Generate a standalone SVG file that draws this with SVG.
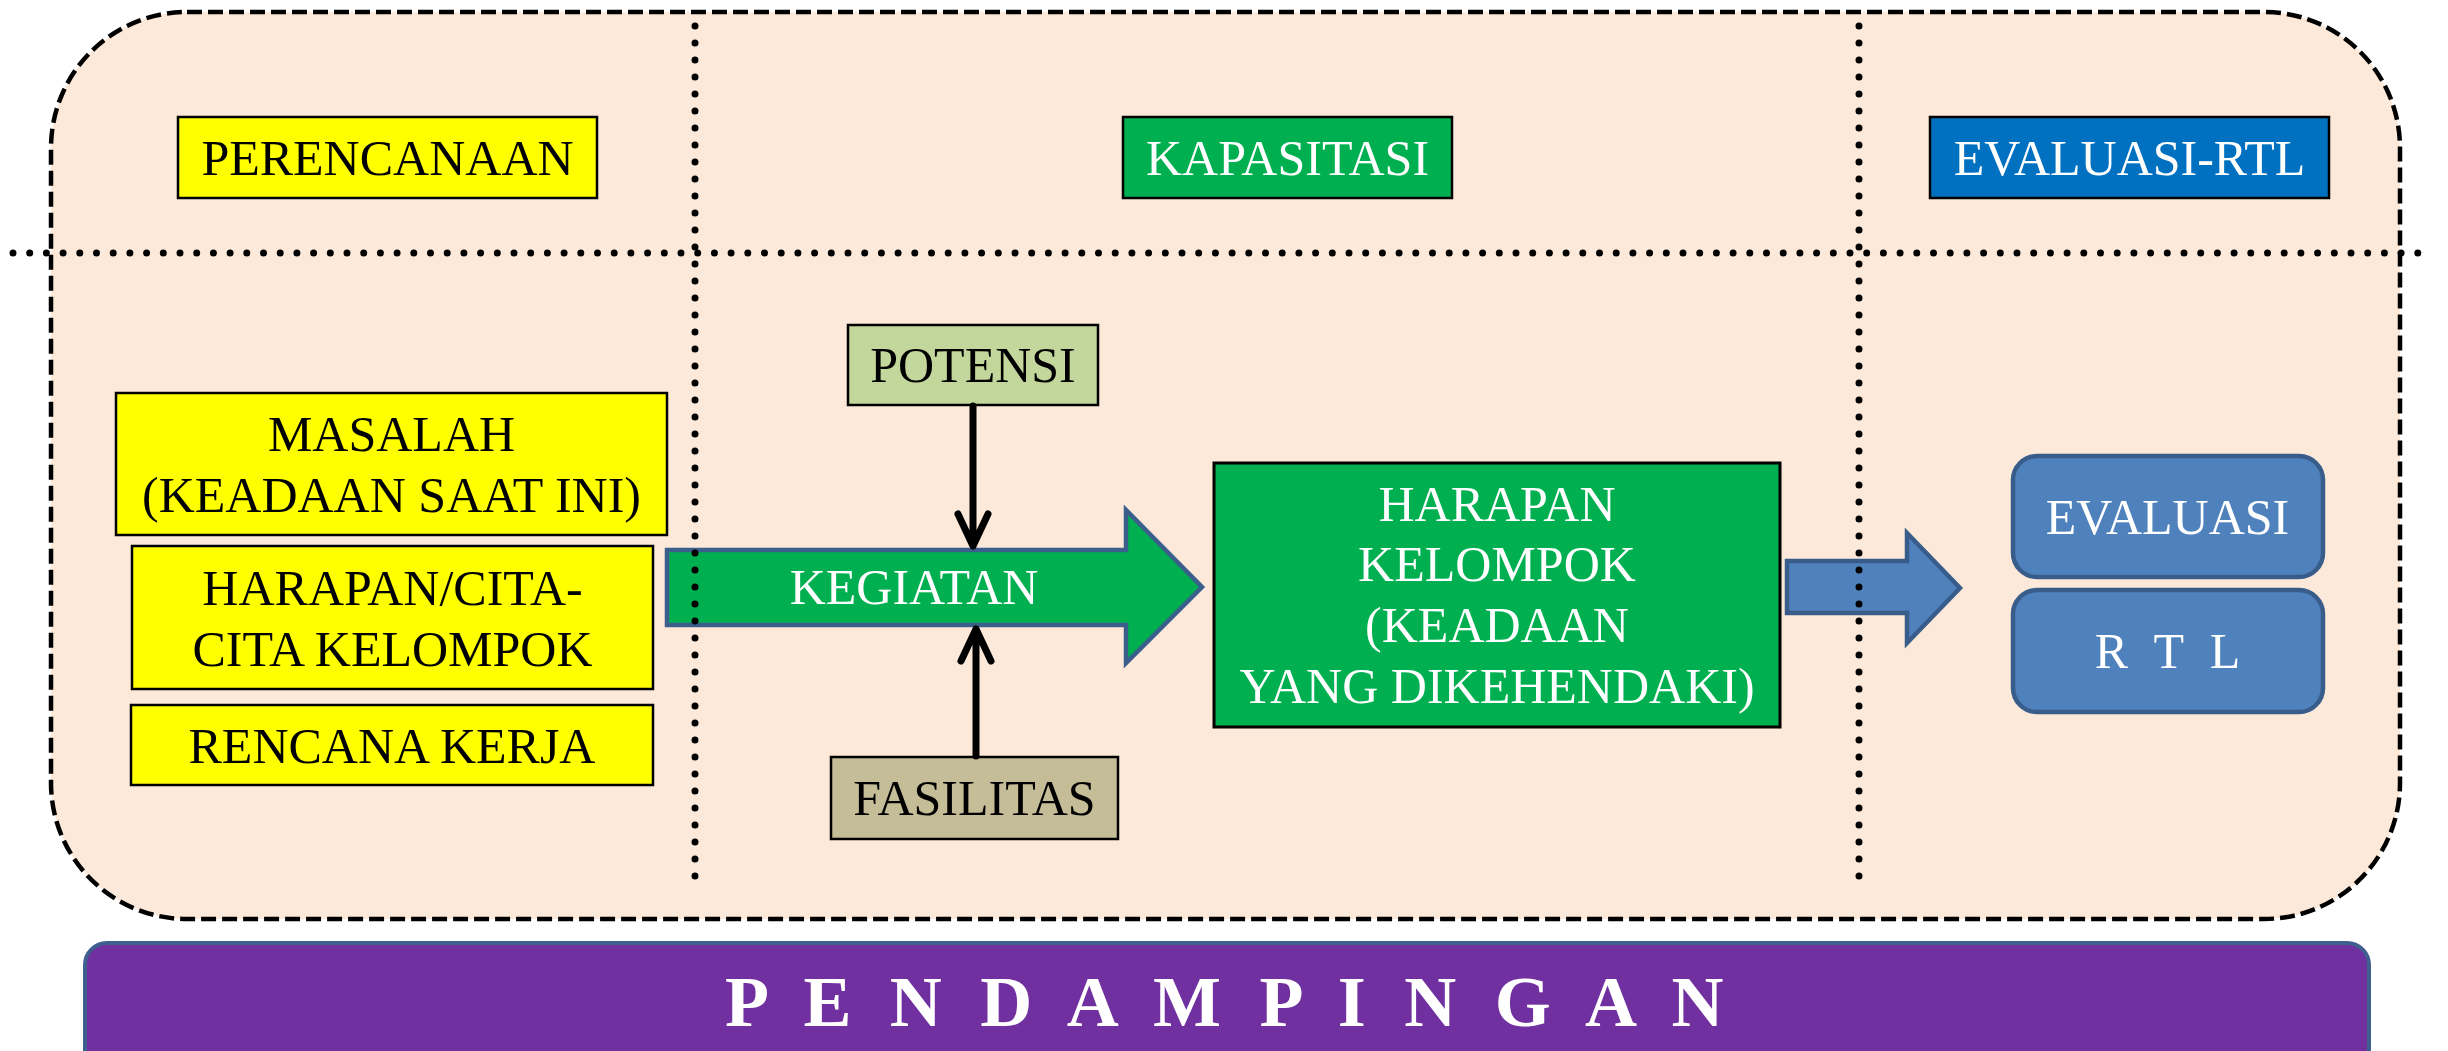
<svg xmlns="http://www.w3.org/2000/svg" width="2448" height="1051" viewBox="0 0 2448 1051">
<style>
.t{font-family:"Liberation Serif","Times New Roman",serif;font-size:50px;text-anchor:middle}
.k{fill:#000}
.w{fill:#fff}
.box{stroke:#000;stroke-width:2.5}
.dot{stroke:#000;stroke-width:7;stroke-linecap:round;fill:none}
.bl{stroke:#000;stroke-width:7;fill:none;stroke-linecap:round;stroke-linejoin:round}
</style>
<rect width="2448" height="1051" fill="#fff"/>
<g id="frame">
<rect x="51" y="12" width="2349" height="907" rx="136" ry="136" fill="#FDE9D9" stroke="#000" stroke-width="4.5" stroke-dasharray="15 6"/>
</g>
<g id="perencanaan"><rect class="box" x="178" y="117" width="419" height="81" fill="#FFFF00"/><text class="t k" x="387.5" y="175">PERENCANAAN</text></g>
<g id="kapasitasi"><rect class="box" x="1123" y="117" width="329" height="81" fill="#00B050"/><text class="t w" x="1287.5" y="175">KAPASITASI</text></g>
<g id="evaluasi-rtl"><rect class="box" x="1930" y="117" width="399" height="81" fill="#0070C0"/><text class="t w" x="2129.5" y="175">EVALUASI-RTL</text></g>
<g id="masalah"><rect class="box" x="116" y="393" width="551" height="142" fill="#FFFF00"/><text class="t k" x="391.5" y="451">MASALAH</text><text class="t k" x="391.5" y="512">(KEADAAN SAAT INI)</text></g>
<g id="harapan-cita"><rect class="box" x="132" y="546" width="521" height="143" fill="#FFFF00"/><text class="t k" x="392.5" y="605">HARAPAN/CITA-</text><text class="t k" x="392.5" y="666">CITA KELOMPOK</text></g>
<g id="rencana-kerja"><rect class="box" x="131" y="705" width="522" height="80" fill="#FFFF00"/><text class="t k" x="392" y="763">RENCANA KERJA</text></g>
<g id="potensi"><rect class="box" x="848" y="325" width="250" height="80" fill="#C3D69B"/><text class="t k" x="973" y="382">POTENSI</text></g>
<g id="fasilitas"><rect class="box" x="831" y="757" width="287" height="82" fill="#C4BD97"/><text class="t k" x="974.5" y="815">FASILITAS</text></g>
<g id="kegiatan"><path d="M667,550 L1126,550 L1126,510 L1202,587 L1126,663 L1126,625 L667,625 Z" fill="#00B050" stroke="#3B5E8C" stroke-width="4.5"/><text class="t w" x="914" y="604">KEGIATAN</text></g>
<g id="harapan-kelompok"><rect x="1214" y="463" width="566" height="264" fill="#00B050" stroke="#000" stroke-width="3"/><text class="t w" x="1497" y="521">HARAPAN</text><text class="t w" x="1497" y="581">KELOMPOK</text><text class="t w" x="1497" y="642">(KEADAAN</text><text class="t w" x="1497" y="703">YANG DIKEHENDAKI)</text></g>
<g id="evaluasi"><rect x="2013" y="456" width="310" height="121" rx="24" fill="#4F81BD" stroke="#385D8A" stroke-width="4.5"/><text class="t w" x="2167.5" y="534">EVALUASI</text></g>
<g id="rtl"><rect x="2013" y="590" width="310" height="122" rx="24" fill="#4F81BD" stroke="#385D8A" stroke-width="4.5"/><text class="t w" x="2167.5" y="668" word-spacing="14">R T L</text></g>
<g id="connectors">
<path class="bl" d="M973,406 L973,543 M958,514 L973,546 L988,514"/>
<path class="bl" d="M976,756 L976,632 M961,661 L976,629 L991,661"/>
<path d="M1787,561 L1907,561 L1907,533 L1960,588 L1907,643 L1907,613 L1787,613 Z" fill="#4F81BD" stroke="#385D8A" stroke-width="4.5"/>
</g>
<g id="dividers">
<line class="dot" x1="13" y1="253" x2="2428" y2="253" stroke-dasharray="0 16.7"/>
<line class="dot" x1="695" y1="26" x2="695" y2="884" stroke-dasharray="0 17"/>
<line class="dot" x1="1859" y1="26" x2="1859" y2="884" stroke-dasharray="0 17"/>
</g>
<g id="pendampingan">
<rect x="85" y="943" width="2284" height="150" rx="22" fill="#7030A0" stroke="#3F5F8F" stroke-width="4"/>
<text x="725" y="1026" font-family="Liberation Serif, Times New Roman, serif" font-size="72" font-weight="bold" fill="#fff" letter-spacing="10.2">P E N D A M P I N G A N</text>
</g>
</svg>
